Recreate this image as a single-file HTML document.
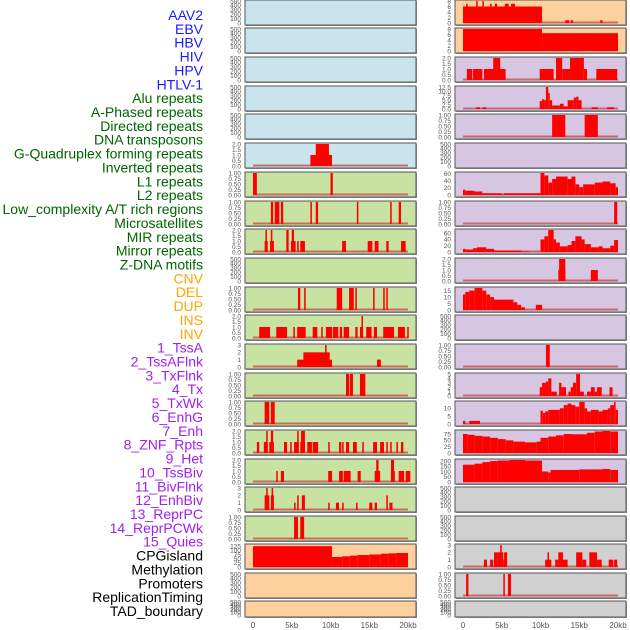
<!DOCTYPE html>
<html><head><meta charset="utf-8"><style>
html,body{margin:0;padding:0;background:#fff;overflow:hidden;}
svg{display:block;font-family:"Liberation Sans",sans-serif;}
</style></head><body>
<svg id="chart" width="630" height="630" viewBox="0 0 630 630" xmlns="http://www.w3.org/2000/svg">
<g id="labels"></g>
<g id="panels"></g>
<g id="xaxis"></g>
</svg>
<script>
const trackLabels = ["AAV2","EBV","HBV","HIV","HPV","HTLV-1","Alu repeats","A-Phased repeats","Directed repeats","DNA transposons","G-Quadruplex forming repeats","Inverted repeats","L1 repeats","L2 repeats","Low_complexity A/T rich regions","Microsatellites","MIR repeats","Mirror repeats","Z-DNA motifs","CNV","DEL","DUP","INS","INV","1_TssA","2_TssAFlnk","3_TxFlnk","4_Tx","5_TxWk","6_EnhG","7_Enh","8_ZNF_Rpts","9_Het","10_TssBiv","11_BivFlnk","12_EnhBiv","13_ReprPC","14_ReprPCWk","15_Quies","CPGisland","Methylation","Promoters","ReplicationTiming","TAD_boundary"];
const labelColors = ["#1a1aff","#1a1aff","#1a1aff","#1a1aff","#1a1aff","#1a1aff","#006400","#006400","#006400","#006400","#006400","#006400","#006400","#006400","#006400","#006400","#006400","#006400","#006400","#ffa500","#ffa500","#ffa500","#ffa500","#ffa500","#a020f0","#a020f0","#a020f0","#a020f0","#a020f0","#a020f0","#a020f0","#a020f0","#a020f0","#a020f0","#a020f0","#a020f0","#a020f0","#a020f0","#a020f0","#000","#000","#000","#000","#000"];
const xTicks = [0,5,10,15,20];
const xTickLabels = ["0","5kb","10kb","15kb","20kb"];

const t500=[0,100,200,300,400,500], t1=[0,0.25,0.5,0.75,1], t2=[0,0.5,1,1.5,2], t3=[0,1,2,3];
const t8=[0,2,4,6,8], t125=[0,2.5,5,7.5,10,12.5], t60=[0,20,40,60], t15=[0,5,10,15];
const t5=[0,1,2,3,4,5], t10=[0,5,10], t75=[0,25,50,75], t200=[0,50,100,150,200], t130=[0,25,50,75,100,125];

const segL5=[[7.4,10.2,1],[8.1,9.8,2]];
const segL6=[[0,0.5,1],[10,10.3,1]];
const segL7=[[2.3,2.6,1],[2.8,3.4,1],[3.6,3.9,1],[7.4,7.6,1],[8.1,8.4,1],[13.4,13.6,1],[17.7,17.9,1],[18.8,19.1,1]];
const segL8=[[1.5,1.9,1],[1.6,1.8,2],[2.2,2.7,1],[2.3,2.5,2],[4.3,4.6,2],[4.9,5.5,1],[5.0,5.3,2],[5.7,5.9,1],[6.1,6.7,1],[11.5,12.0,1],[14.8,15.4,1],[15.7,16.2,1],[17.2,17.5,1],[19.1,19.7,1]];
const segL10=[[5.8,6.1,1],[6.6,6.8,1],[10.8,11.5,1],[12.4,13.0,1],[13.2,13.4,1],[15.5,15.7,1],[16.8,17.0,1],[17.2,17.4,1]];
const segL11=[[0.8,2.2,1],[3.0,4.4,1],[5.2,5.4,1],[5.7,6.8,1],[7.7,8.3,1],[8.8,9.0,1],[9.4,10.2,1],[10.3,11.0,1],[11.2,11.5,1],[11.7,12.4,1],[13.2,13.5,1],[13.8,14.2,1],[14.0,14.1,2],[14.6,15.3,1],[15.6,16.0,1],[16.8,18.2,1],[18.7,19.6,1],[19.9,20.1,1]];
const segL12=[[5.7,10.2,1],[6.5,9.9,2],[9.3,9.5,3],[16.0,16.5,1]];
const segL13=[[12.0,12.4,1],[12.5,12.9,1],[13.8,14.5,1]];
const segL14=[[1.5,2.1,1],[2.3,2.8,1]];
const segL15=[[0.5,0.8,1],[1.4,1.9,1],[1.7,1.9,2],[2.1,2.7,1],[2.3,2.6,2],[4.0,4.4,1],[4.8,5.0,1],[5.3,5.9,1],[5.7,5.9,2],[6.1,6.7,1],[6.2,6.7,2],[7.0,7.6,1],[7.7,8.4,1],[9.7,9.9,1],[11.1,11.4,1],[11.5,11.7,1],[12.0,12.4,1],[12.9,13.4,1],[14.1,14.3,1],[15.5,16.0,1],[16.4,16.9,1],[17.2,17.4,1],[17.7,17.9,1],[18.5,18.7,1],[19.1,19.4,1]];
const segL16=[[3.0,3.2,1],[3.6,4.0,1],[9.7,10.2,1],[11.1,11.6,1],[11.7,12.6,1],[13.5,13.9,1],[15.7,16.4,1],[15.9,16.2,2],[17.8,18.3,1],[17.8,18.2,2],[18.8,19.5,1],[19.7,20.3,1]];
const segL17=[[1.5,2.1,2],[1.7,1.9,3],[2.3,2.7,2],[2.4,2.6,3],[5.3,5.5,1],[5.7,5.9,2],[6.3,6.7,2],[9.7,9.9,1],[10.7,11.1,1],[11.5,11.7,1],[13.3,13.5,1],[15.0,15.4,1],[15.7,16.0,1],[17.2,17.4,2],[17.6,18.0,1]];
const segL18=[[5.3,5.8,1],[6.1,6.6,1]];
const segL19=[[0,10.2,125],[10.2,11.5,60],[11.5,12.5,64],[12.5,13.5,68],[13.5,15,72],[15,16.5,75],[16.5,17.5,80],[17.5,18.5,82],[18.5,20,84]];

const segR0=[[0,10.2,6],[0.4,0.6,7],[1.7,1.9,8],[2.5,2.7,8],[3.5,3.7,7],[4.1,4.4,7],[5.4,5.9,7],[6.2,6.7,7],[13.2,13.7,1],[13.9,14.2,1],[17.7,18.0,1]];
const segR1=[[0,10.2,8],[10.2,20,6.5]];
const segR2=[[0.5,1.2,1],[1.3,2.5,1],[2.7,5.5,1],[3.9,4.8,2],[9.9,11.7,1],[12.0,12.8,2],[12.8,13.8,1],[13.8,15.6,2],[15.6,16.0,1],[17.2,19.9,1]];
const segR3=[[1.7,2.2,1],[2.5,3.0,1],[9.9,10.2,4.5],[10.2,10.5,5.5],[10.5,10.7,5],[10.7,11.0,12.5],[11.0,11.2,9],[11.2,11.5,5],[11.5,12.5,2],[12.5,13.0,3],[13.0,13.5,1.5],[13.5,14.3,5],[14.3,14.6,6.5],[14.6,14.9,7],[14.9,15.3,5],[16.6,17.4,1],[18.6,19.5,1]];
const segR4=[[11.5,13.2,1],[15.7,17.4,1]];
const segR6=[[0,0.3,15],[0.3,1.5,12],[1.5,2.5,10],[2.5,5,5],[5,5.3,2],[5.3,10,5],[10,10.5,62],[10.5,11,55],[11,11.5,35],[11.5,12,45],[12,13.5,52],[13.5,14,45],[14,14.5,52],[14.5,15,30],[15,15.5,22],[15.5,17,30],[17,18,35],[18,19,38],[19,19.7,33],[19.7,20,22]];
const segR7=[[19.5,19.9,1]];
const segR8=[[0,0.3,10],[0.3,1.3,8],[1.3,1.8,12],[1.8,3,15],[3,4,10],[4,7.5,5],[7.5,8.5,2],[10,10.5,40],[10.5,11,50],[11,11.7,70],[11.7,12,40],[12,12.5,30],[12.5,13.5,18],[13.5,14,22],[14,14.5,35],[14.5,15.3,50],[15.3,15.7,40],[15.7,16.5,25],[16.5,17.5,15],[17.5,18,18],[18,19,12],[19,19.5,20],[19.5,20,38]];
const segR9=[[12.3,13.2,1],[12.4,13.2,2],[16.5,17.4,1]];
const segR10=[[0,0.3,12],[0.3,0.8,14],[0.8,1.5,15],[1.5,2.5,17],[2.5,3,15],[3,3.5,12],[3.5,4,10],[4,6.5,8],[6.5,7,6],[7,7.5,4],[7.5,8,2],[9.4,10.2,4]];
const segR12=[[10.7,11.2,1]];
const segR13=[[9.9,10.2,2],[10.2,10.7,3],[10.7,11.0,3.3],[11.0,11.4,4],[11.4,12.1,1],[12.4,12.7,3],[12.7,13.3,2],[13.6,13.9,1],[13.9,14.2,2],[14.2,14.6,3],[14.6,15.1,5],[15.1,15.6,1],[16.0,16.5,1],[16.5,17.0,2],[17.0,17.3,1],[17.3,17.9,2],[18.9,19.3,2]];
const segR14=[[0,0.3,2],[0.8,2.2,2],[10,10.3,8.5],[10.3,10.6,7],[10.6,11,8],[11,12.5,9],[12.5,13,10],[13,13.5,12],[13.5,14,13],[14,14.5,12],[14.5,15,11],[15,15.7,14],[15.7,16,10],[16,16.5,8],[16.5,17.5,9],[17.5,18,8],[18,18.7,9],[18.7,19,10],[19,19.5,12],[19.5,19.7,14],[19.7,20,9]];
const segR15=[[0,0.6,75],[0.6,1.5,72],[1.5,2.5,68],[2.5,3.5,65],[3.5,4.5,60],[4.5,5.5,55],[5.5,6.5,50],[6.5,8,45],[8,9.5,42],[9.5,10,45],[10,11,60],[11,12,65],[12,13,70],[13,14,75],[14,16,74],[16,17,80],[17,18,85],[18,19,87],[19,20,85]];
const segR16=[[0,1.5,165],[1.5,2.5,175],[2.5,3.5,190],[3.5,4.5,200],[4.5,6,205],[6,8,210],[8,10.2,205],[10.2,11,100],[11,11.3,90],[11.3,15,115],[15,18,120],[18,19,125],[19,20,115]];
const segR19=[[2.7,3.1,1],[3.5,3.9,1],[4.0,4.5,2],[4.5,5.2,2],[4.8,5.0,3],[5.2,5.3,1],[5.3,5.7,2],[10.6,11.0,1],[10.9,11.1,2],[11.1,11.4,1],[11.9,12.3,1],[12.3,12.9,2],[12.9,13.5,1],[14.6,15.4,2],[15.4,15.9,1],[16.3,17.3,2],[17.3,17.9,1],[18.8,19.4,1],[19.5,19.9,1]];
const segR20=[[0.4,0.7,1],[5.2,5.4,1],[5.8,6.2,1]];

const rowTops=[0,28,57,86,114,143,172,201,229,258,287,315,344,373,401,430,459,487,516,544,573,601];
const C={b:"#c9e4ec",g:"#c8e2a2",o:"#fed09e",p:"#d6c6e2",y:"#d0d0d0"};
const leftPanels=[
 [C.b,t500,500,[]],[C.b,t500,500,[]],[C.b,t500,500,[]],[C.b,t500,500,[]],[C.b,t500,500,[]],
 [C.b,t2,2,segL5],[C.g,t1,1,segL6],[C.g,t1,1,segL7],[C.g,t2,2,segL8],[C.g,t500,500,[]],
 [C.g,t1,1,segL10],[C.g,t2,2,segL11],[C.g,t3,3,segL12],[C.g,t1,1,segL13],[C.g,t1,1,segL14],
 [C.g,t2,2,segL15],[C.g,t2,2,segL16],[C.g,t3,3,segL17],[C.g,t1,1,segL18],[C.o,t130,132,segL19],
 [C.o,t500,500,[]],[C.o,t500,500,[]]];
const rightPanels=[
 [C.o,t8,8,segR0],[C.o,t8,8,segR1],[C.p,t2,2,segR2],[C.p,t125,12.5,segR3],[C.p,t1,1,segR4],
 [C.p,t500,500,[]],[C.p,t60,62,segR6],[C.p,t1,1,segR7],[C.p,t60,70,segR8],[C.p,t2,2,segR9],
 [C.p,t15,17,segR10],[C.p,t500,500,[]],[C.p,t1,1,segR12],[C.p,t5,5,segR13],[C.p,t10,14,segR14],
 [C.p,t75,87,segR15],[C.p,t200,210,segR16],[C.y,t500,500,[]],[C.y,t500,500,[]],[C.y,t3,3,segR19],
 [C.y,t1,1,segR20],[C.y,t500,500,[]]];

const NS="http://www.w3.org/2000/svg";
function mk(tag,attrs,parent){const e=document.createElementNS(NS,tag);for(const k in attrs)e.setAttribute(k,attrs[k]);parent.appendChild(e);return e;}
function fmt(ticks,v){
 if(ticks===t1) return v.toFixed(2);
 if(ticks===t2||ticks===t125) return v.toFixed(1);
 return String(v);
}

const lab=document.getElementById('labels');
const step=(611-15)/(trackLabels.length-1);
trackLabels.forEach((t,i)=>{
 const e=mk('text',{x:203,y:15+i*step+5,'text-anchor':'end','font-size':'14',fill:labelColors[i]},lab);
 
 
 e.textContent=t;
});

const pg=document.getElementById('panels');
function drawPanel(px0,x0kb,row,p){
 const [fill,ticks,ymax,segs]=p;
 const top=rowTops[row], h=(row===21?16:25), w=171;
 const g=mk('g',{},pg);
 
 
 mk('rect',{x:px0+1,y:top+1,width:w,height:h,fill:'#999'},g);
 mk('rect',{x:px0,y:top,width:w,height:h,fill:fill,stroke:'#555','stroke-width':1},g);
 const y0=top+h-2, y1=top+1;
 const ys=v=>y0-(v/ymax)*(y0-y1);
 const xs=k=>x0kb+k*7.75;
 ticks.forEach(v=>{
  const e=mk('text',{x:px0-4,y:ys(v)+2.3,'text-anchor':'end','font-size':'6.5',fill:'#555'},g);
  
  
  e.textContent=fmt(ticks,v);
 });
 if(segs.length){
  mk('rect',{x:xs(0),y:y0-1.5,width:xs(20)-xs(0),height:2,fill:'#c85050',opacity:0.8},g);
 }
 segs.forEach(s=>{
  const r=mk('rect',{x:xs(s[0]),y:ys(s[2]),width:Math.max(1.5,xs(s[1])-xs(s[0])),height:y0-ys(s[2]),fill:'#ff0000'},g);
  
  
 });
}
leftPanels.forEach((p,i)=>drawPanel(245,253,i,p));
rightPanels.forEach((p,i)=>drawPanel(455,463,i,p));

const xa=document.getElementById('xaxis');
[253,463].forEach(o=>{
 xTicks.forEach((k,i)=>{
  const e=mk('text',{x:o+k*7.75,y:628,'text-anchor':'middle','font-size':'8',fill:'#555'},xa);
  
  
  e.textContent=xTickLabels[i];
 });
});
</script>
</body></html>
